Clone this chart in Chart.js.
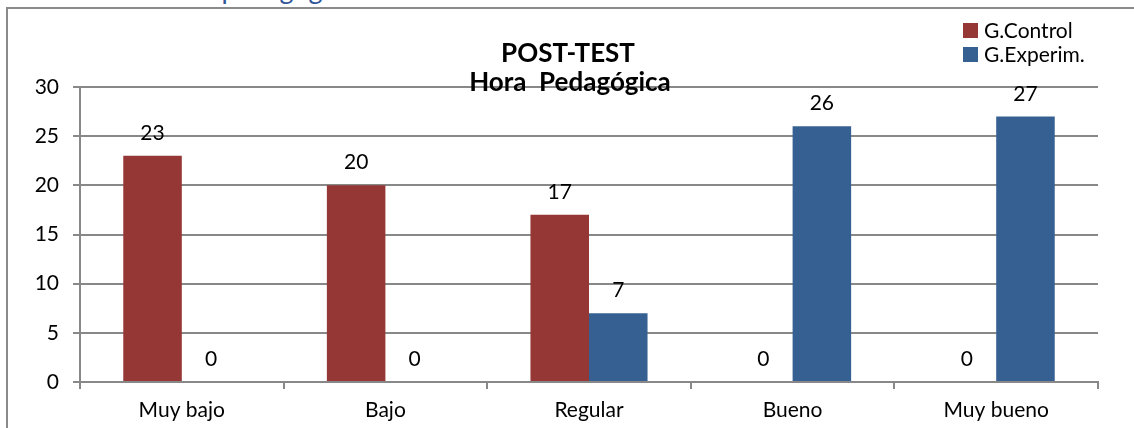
<!DOCTYPE html>
<html>
<head>
<meta charset="utf-8">
<script src="https://cdn.jsdelivr.net/npm/chart.js@4"></script>
<style>
    body { margin: 0; width: 1134px; height: 428px; overflow: hidden; background: #fff; position: relative; font-family: Lato, sans-serif; }
    #topText { position: absolute; left: 156px; top: -27px; color: #2f5597; font-size: 27px; line-height: 31px; white-space: nowrap; }
    #frame { position: absolute; left: 6px; top: 7px; width: 1400px; height: 600px; border-left: 2px solid #8a8a8a; border-top: 2px solid #8a8a8a; }
    #myChart { position: absolute; left: 0; top: 0; }
</style>
</head>
<body>
<div id="topText">Hora pedagógica</div>
<div id="frame"></div>
<canvas id="myChart" width="1134" height="428"></canvas>
<script>
const categories = ['Muy bajo', 'Bajo', 'Regular', 'Bueno', 'Muy bueno'];
const controlValues = [23, 20, 17, 0, 0];
const experimValues = [0, 0, 7, 26, 27];
const seriesNames = ['G.Control', 'G.Experim.'];
const titleLines = ['POST-TEST', 'Hora  Pedagógica'];

const FONT = 'Lato, sans-serif';
const GRID = '#888888';

// value labels over every bar, including the zero ones
const valueLabels = {
    id: 'valueLabels',
    afterDatasetsDraw(chart) {
        const ctx = chart.ctx;
        ctx.save();
        ctx.font = '21px ' + FONT;
        ctx.fillStyle = '#000';
        ctx.textAlign = 'center';
        ctx.textBaseline = 'alphabetic';
        chart.data.datasets.forEach((ds, i) => {
            chart.getDatasetMeta(i).data.forEach((bar, j) => {
                ctx.fillText(String(ds.data[j]), bar.x, bar.y - 16);
            });
        });
        ctx.restore();
    }
};

// title and legend sit over the plot like in the original
const overlay = {
    id: 'overlay',
    afterDraw(chart) {
        const ctx = chart.ctx;
        ctx.save();
        ctx.fillStyle = '#000';
        ctx.textAlign = 'center';
        ctx.font = 'bold 26px ' + FONT;
        ctx.fillText(titleLines[0], 568, 62);
        ctx.fillText(titleLines[1], 570, 91);

        ctx.textAlign = 'left';
        ctx.font = '21px ' + FONT;
        chart.data.datasets.forEach((ds, i) => {
            const y = 23 + i * 24;
            ctx.fillStyle = ds.backgroundColor;
            ctx.fillRect(963, y, 15, 15);
            ctx.fillStyle = '#000';
            ctx.fillText(ds.label, 984, y + 15);
        });
        ctx.restore();
    }
};

const ctx = document.getElementById('myChart').getContext('2d');
const myChart = new Chart(ctx, {
    type: 'bar',
    data: {
        labels: categories,
        datasets: [
            { label: seriesNames[0], data: controlValues, backgroundColor: '#953735' },
            { label: seriesNames[1], data: experimValues, backgroundColor: '#376092' }
        ]
    },
    options: {
        responsive: false,
        animation: false,
        devicePixelRatio: 1,
        layout: { padding: { top: 87, right: 36, left: 0, bottom: 0 } },
        categoryPercentage: 0.575,
        barPercentage: 1.0,
        plugins: {
            legend: { display: false },
            title: { display: false },
            tooltip: { enabled: false }
        },
        scales: {
            x: {
                afterFit: (scale) => { scale.height = 46; },
                grid: { drawOnChartArea: false, drawTicks: true, tickLength: 7, color: GRID, lineWidth: 2 },
                border: { color: GRID, width: 2 },
                ticks: { color: '#000', font: { family: FONT, size: 21 }, padding: 9 }
            },
            y: {
                min: 0,
                max: 30,
                afterFit: (scale) => { scale.width = 80; },
                ticks: { stepSize: 5, color: '#000', font: { family: FONT, size: 21 }, padding: 14 },
                grid: { color: GRID, lineWidth: 2, tickLength: 7 },
                border: { color: GRID, width: 2 }
            }
        }
    },
    plugins: [valueLabels, overlay]
});
</script>
</body>
</html>
